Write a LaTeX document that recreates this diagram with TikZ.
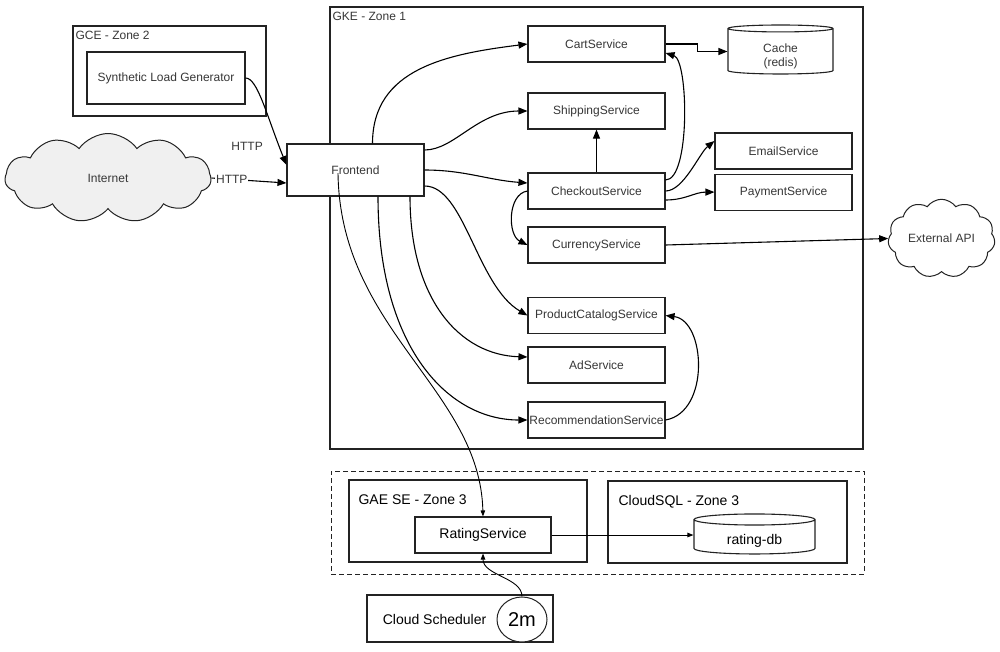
\documentclass[tikz,border=0pt]{standalone}
\usepackage{fontspec}
\setmainfont{Liberation Sans}
\usepackage{tikz}
\usetikzlibrary{positioning, calc, arrows.meta, shapes.geometric, shapes.symbols}
\definecolor{boxgray}{RGB}{35, 35, 35}
\definecolor{textgray}{RGB}{55, 55, 55}
\definecolor{cloudfill}{RGB}{240, 240, 240}
\tikzset{
    svcnode/.style={
        draw=boxgray, line width=1.1pt, fill=white, minimum width=137pt, minimum height=36pt,
        text=textgray, font=\fontsize{12}{14}\selectfont, inner sep=0pt
    },
    zonebox/.style={
        draw=boxgray, line width=1.2pt, inner sep=0pt
    },
    zonelabel/.style={
        anchor=north west, inner sep=3pt, yshift=-3pt, text=textgray, font=\fontsize{12}{14}\selectfont
    },
    ptr/.style={
        -{Triangle[length=9pt, width=7pt]}, line width=1.1pt, black
    },
    thinptr/.style={
        -{Triangle[length=6pt, width=4.5pt]}, line width=0.9pt, black
    }
}

\begin{document}
\begin{tikzpicture}[
        x=1pt, y=-1pt,
        % --- STYLE ---
        dbnode/.style={cylinder, shape border rotate=90, aspect=0.2, draw=boxgray, line width=1.1pt, fill=white, inner sep=0pt, align=center, font=\fontsize{12}{14}\selectfont},
        dblabel/.style={align=center, yshift=-5pt, text=textgray, font=\fontsize{12}{14}\selectfont},
        cloudnode/.style={cloud, cloud puffs=11, cloud puff arc=110, draw=boxgray, line width=1pt, inner sep=0pt, text=textgray, font=\fontsize{12}{14}\selectfont},
        gaenode/.style={svcnode, text=black, font=\fontsize{14}{16}\selectfont},
        gaelabel/.style={zonelabel, text=black, font=\fontsize{14}{16}\selectfont}
    ]
    \useasboundingbox (0,0) rectangle (1000,651);

    % --- ZONES ---
    \node[zonebox, minimum width=193pt, minimum height=90pt] (gce) at (169.5,71) {};
    \node[zonelabel] at (gce.north west) {GCE - Zone 2};
    \node[zonebox, minimum width=533pt, minimum height=442pt] (gke) at (596.5,228) {};
    \node[zonelabel] at (gke.north west) {GKE - Zone 1};
    \node[zonebox, line width=1pt, dash pattern=on 5pt off 3pt, minimum width=533pt, minimum height=103pt] (region) at (597.5,522.5) {};
    \node[zonebox, minimum width=238pt, minimum height=82pt] (gae) at (468,521) {};
    \node[gaelabel] at ([xshift=7pt,yshift=-9pt]gae.north west) {GAE SE - Zone 3};
    \node[zonebox, minimum width=239pt, minimum height=82pt] (cloudsql) at (727.5,522) {};
    \node[gaelabel] at ([xshift=8pt,yshift=-9pt]cloudsql.north west) {CloudSQL - Zone 3};

    % --- OUTSIDE ---
    \node[svcnode, minimum width=158pt, minimum height=52pt] (loadgen) at (166,78) {Synthetic Load Generator};
    \node[cloudnode, fill=cloudfill, aspect=2.3, minimum width=206pt, minimum height=89pt] (internet) at (108,178) {Internet};
    \node[cloudnode, fill=white, aspect=1.4, minimum width=107pt, minimum height=77pt] (extapi) at (941.5,238.5) {External API};

    % --- GKE SERVICES ---
    \node[svcnode, minimum height=52pt] (frontend) at (355.5,170) {Frontend};
    \node[svcnode] (cart) at (596.5,44) {CartService};
    \node[svcnode] (shipping) at (596.5,111) {ShippingService};
    \node[svcnode] (checkout) at (596.5,191) {CheckoutService};
    \node[svcnode] (currency) at (596.5,245) {CurrencyService};
    \node[svcnode] (catalog) at (596.5,315.5) {ProductCatalogService};
    \node[svcnode] (adsvc) at (596.5,365) {AdService};
    \node[svcnode] (recommend) at (596.5,420) {RecommendationService};
    \node[svcnode] (email) at (783.5,151) {EmailService};
    \node[svcnode, below=4pt of email] (payment) {PaymentService};
    \node[dbnode, minimum width=105pt, minimum height=49pt,
        label={[dblabel]center:Cache\\(redis)}] (cache) at (780.5,51.5) {\phantom{Cache}\\\phantom{(redis)}};

    % --- ZONE 3 ---
    \node[gaenode, minimum width=136pt] (rating) at (483,535) {RatingService};
    \node[dbnode, minimum width=121pt, minimum height=40pt, font=\fontsize{14}{16}\selectfont,
        label={[dblabel, yshift=1pt, text=black, font=\fontsize{14}{16}\selectfont]center:rating-db}] (ratingdb) at (754.5,537) {\phantom{rating-db}};
    \node[zonebox, line width=1.1pt, minimum width=186pt, minimum height=47pt] (scheduler) at (460,618.5) {};
    \node[ellipse, draw=boxgray, line width=1pt, fill=white, minimum width=50pt, minimum height=45pt, inner sep=0pt, font=\fontsize{20}{22}\selectfont] (twom) at (522,619.5) {2m};
    \node[left=10pt of twom, inner sep=0pt, font=\fontsize{14}{16}\selectfont] (schedlabel) {Cloud Scheduler};

    % --- HTTP ---
    \draw[ptr] (loadgen.east) .. controls +(12,0) and +(-20,-50) .. ([yshift=5pt]frontend.west)
        node[pos=0.86, left=12pt, yshift=-2pt, text=textgray, font=\fontsize{12}{14}\selectfont] {HTTP};
    \draw[ptr] (internet.east) -- node[pos=0.27, fill=white, inner sep=1pt, text=textgray, font=\fontsize{12}{14}\selectfont] {HTTP} ([yshift=-13pt]frontend.west);

    % --- FRONTEND CALLS ---
    \draw[ptr] ([xshift=17pt]frontend.north) .. controls +(0,-75) and +(-80,10) .. (cart.west);
    \draw[ptr] ([yshift=20pt]frontend.east) .. controls +(30,0) and +(-50,0) .. (shipping.west);
    \draw[ptr] (frontend.east) .. controls +(40,0) and +(-40,-3) .. ([yshift=8pt]checkout.west);
    \draw[ptr] ([yshift=-16pt]frontend.east) .. controls +(40,0) and +(-51,-30) .. (catalog.west);
    \draw[ptr] ([xshift=54.5pt]frontend.south) .. controls +(0,104) and +(-67,-2) .. ([yshift=8pt]adsvc.west);
    \draw[ptr] ([xshift=22.5pt]frontend.south) .. controls +(0,150) and +(-80,0) .. (recommend.west);
    \draw[thinptr] ([xshift=-17.5pt,yshift=-3pt]frontend.center) .. controls +(2,157) and +(-3,-127) .. (rating.north);

    % --- CHECKOUT CALLS ---
    \draw[ptr] (checkout.north) -- (shipping.south);
    \draw[ptr] ([yshift=11pt]checkout.east) .. controls +(25,0) and +(23,7) .. ([yshift=-9pt]cart.east);
    \draw[ptr] (checkout.east) .. controls +(18,0) and +(-15,12) .. ([yshift=10pt]email.west);
    \draw[ptr] ([yshift=-9pt]checkout.east) .. controls +(20,0) and +(-20,0) .. (payment.west);
    \draw[ptr] (checkout.west) .. controls +(-20,3) and +(-20,-10) .. (currency.west);

    % --- OTHER ---
    \draw[ptr] (cart.east) -- ++(32,0) |- (cache.west);
    \draw[ptr] (currency.east) -- (extapi.west);
    \draw[ptr] (recommend.east) .. controls +(45,-8) and +(40,5) .. (catalog.east);
    \draw[thinptr] (rating.east) -- (rating.east -| ratingdb.west);
    \draw[thinptr] (twom.north) .. controls +(0,-19) and +(0,22) .. (rating.south);

\end{tikzpicture}
\end{document}
